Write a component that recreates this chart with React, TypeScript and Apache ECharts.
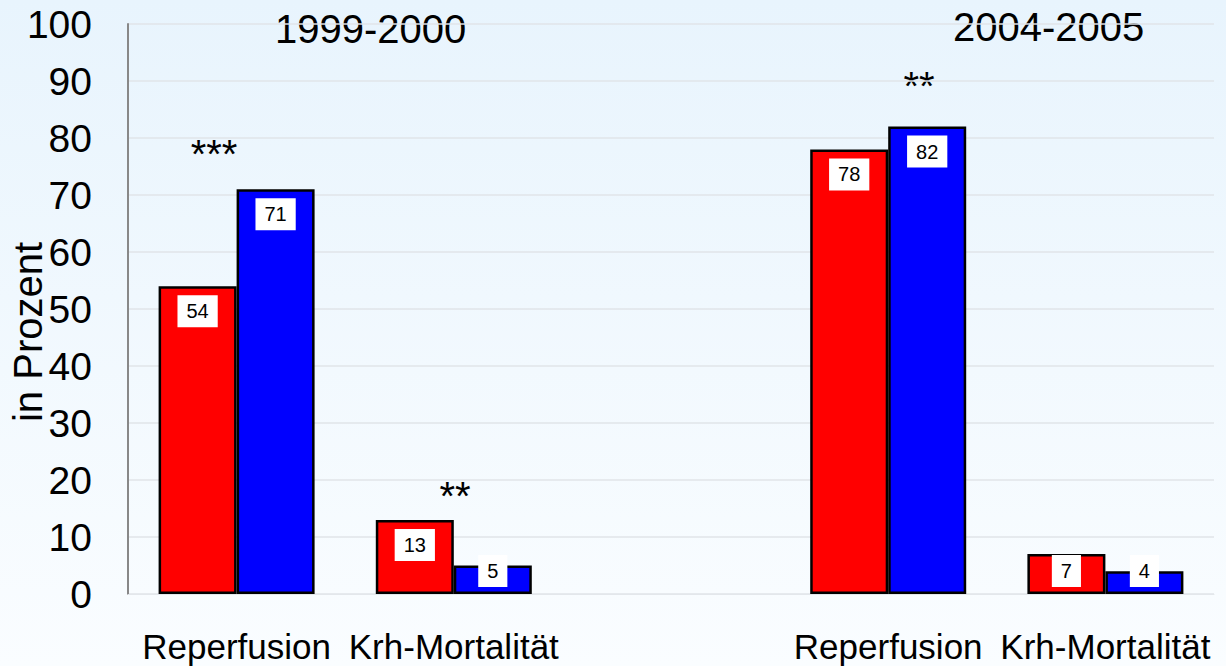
import React, { useEffect, useRef } from "react";
import * as echarts from "echarts";

const categories = ["Reperfusion", "Krh-Mortalität", "", "Reperfusion", "Krh-Mortalität"];
const redValues = [54, 13, null, 78, 7];
const blueValues = [71, 5, null, 82, 4];
const smallBarThreshold = 10;
const periodTitles = ["1999-2000", "2004-2005"];
const significance = ["***", "**", "", "**", ""];
const yTicks = { min: 0, max: 100, interval: 10 };

const FONT = "Liberation Sans, Arial, Helvetica, sans-serif";

function labelFor(v: number | null) {
  if (v == null) return undefined;
  const small = v < smallBarThreshold;
  return {
    show: true,
    position: small ? "insideBottom" : "insideTop",
    distance: small ? 7 : 9,
    color: "#000",
    fontSize: 20,
    fontFamily: FONT,
    backgroundColor: "#ffffff",
    padding: [6, 9, 6, 9],
  };
}

export default function App() {
  const ref = useRef<HTMLDivElement>(null);
  useEffect(() => {
    if (!ref.current) return;
    const chart = echarts.init(ref.current, null, { renderer: "svg" });
    const mk = (vals: (number | null)[], color: string) => ({
      type: "bar",
      barWidth: 78,
      barGap: "0%",
      data: vals.map((v) => ({
        value: v,
        label: labelFor(v),
      })),
      itemStyle: { color, borderColor: "#000", borderWidth: 2.5 },
    });
    chart.setOption({
      animation: false,
      backgroundColor: {
        type: "linear",
        x: 0,
        y: 0,
        x2: 0,
        y2: 1,
        colorStops: [
          { offset: 0, color: "#e8f4fd" },
          { offset: 1, color: "#fafdff" },
        ],
      },
      grid: {
        left: 128,
        right: 12,
        top: 24,
        bottom: 72,
        containLabel: false,
        outerBoundsMode: "none",
      },
      xAxis: {
        type: "category",
        data: categories,
        axisLine: { show: true, lineStyle: { color: "#e3e7eb", width: 1 } },
        axisTick: { show: false },
        axisLabel: {
          interval: 0,
          color: "#000",
          fontSize: 35,
          lineHeight: 34,
          fontFamily: FONT,
          margin: 35,
        },
      },
      yAxis: {
        type: "value",
        min: yTicks.min,
        max: yTicks.max,
        interval: yTicks.interval,
        name: "in Prozent",
        nameLocation: "middle",
        nameGap: 80,
        nameMoveOverlap: false,
        nameTextStyle: {
          color: "#000",
          fontSize: 40,
          fontFamily: FONT,
          padding: [0, 46, 0, 0],
        },
        axisLine: { show: true, lineStyle: { color: "#888888", width: 2 } },
        axisTick: { show: false },
        splitLine: { lineStyle: { color: "#e0e4e8", width: 1.5 } },
        axisLabel: { color: "#000", fontSize: 39, fontFamily: FONT, margin: 36 },
      },
      series: [mk(redValues, "#ff0000"), mk(blueValues, "#0000ff")],
      graphic: [
        {
          type: "text",
          left: 275,
          top: 9,
          style: { text: periodTitles[0], fontSize: 40, fontFamily: FONT, fill: "#000" },
        },
        {
          type: "text",
          left: 953,
          top: 7,
          style: { text: periodTitles[1], fontSize: 40, fontFamily: FONT, fill: "#000" },
        },
        {
          type: "text",
          x: 214,
          y: 154,
          style: { text: significance[0], fontSize: 40, fontFamily: FONT, fill: "#000", align: "center", verticalAlign: "middle" },
        },
        {
          type: "text",
          x: 455,
          y: 496,
          style: { text: significance[1], fontSize: 40, fontFamily: FONT, fill: "#000", align: "center", verticalAlign: "middle" },
        },
        {
          type: "text",
          x: 919,
          y: 86,
          style: { text: significance[3], fontSize: 40, fontFamily: FONT, fill: "#000", align: "center", verticalAlign: "middle" },
        },
      ],
    });
    return () => chart.dispose();
  }, []);
  return (
    <div
      ref={ref}
      style={{ position: "absolute", left: 0, top: 0, width: 1226, height: 666 }}
    />
  );
}
